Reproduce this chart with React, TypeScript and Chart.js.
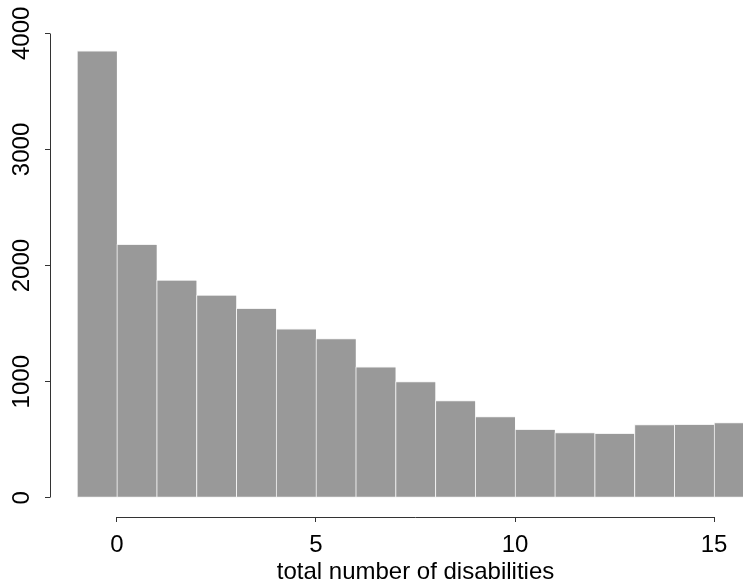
import React, { useEffect, useRef } from "react";
import { Chart, registerables } from "chart.js";

Chart.register(...registerables);

// Histogram of the total number of disabilities (unit-width bins)
const binStarts = [-1, 0, 1, 2, 3, 4, 5, 6, 7, 8, 9, 10, 11, 12, 13, 14, 15];
const counts = [3849, 2183, 1875, 1746, 1631, 1455, 1372, 1128, 1002, 838, 700, 590, 562, 556, 631, 633, 648];
const xTicks = [0, 5, 10, 15];
const yTicks = [0, 1000, 2000, 3000, 4000];
const xLabel = "total number of disabilities";

const FONT = "'Liberation Sans', Arial, Helvetica, sans-serif";
const FONT_SIZE = 24;
const AXIS_COLOR = "#333333";

// Draws R-style axis lines that run from the first to the last tick only
const axisLines = {
  id: "axisLines",
  afterDraw(chart: any) {
    const { ctx, chartArea, scales } = chart;
    const x = scales.x;
    const y = scales.y;
    const align = (p: number) => Math.round(p - 0.5) + 0.5;
    ctx.save();
    ctx.strokeStyle = AXIS_COLOR;
    ctx.lineWidth = 1;
    ctx.beginPath();
    const lx = align(chartArea.left);
    ctx.moveTo(lx, align(y.getPixelForValue(yTicks[0])));
    ctx.lineTo(lx, align(y.getPixelForValue(yTicks[yTicks.length - 1])));
    const by = align(chartArea.bottom);
    ctx.moveTo(align(x.getPixelForValue(xTicks[0])), by);
    ctx.lineTo(align(x.getPixelForValue(xTicks[xTicks.length - 1])), by);
    ctx.stroke();
    ctx.restore();
  },
};

export default function App() {
  const canvasRef = useRef<HTMLCanvasElement | null>(null);

  useEffect(() => {
    const canvas = canvasRef.current;
    if (!canvas) return;
    const data = binStarts.map((s, i) => ({ x: s + 0.5, y: counts[i] }));
    const chart = new Chart(canvas, {
      type: "bar",
      data: {
        datasets: [
          {
            data,
            backgroundColor: "#999999",
            borderColor: "#f2f2f2",
            borderWidth: { left: 1, top: 1, bottom: 1, right: 0 },
            borderSkipped: false,
            barPercentage: 1,
            categoryPercentage: 1,
          },
        ],
      },
      options: {
        animation: false,
        responsive: false,
        devicePixelRatio: 1,
        layout: { padding: { left: 0, top: 33, right: 19, bottom: 0 } },
        plugins: {
          legend: { display: false },
          tooltip: { enabled: false },
        },
        scales: {
          x: {
            type: "linear",
            min: -1.68,
            max: 16.68,
            offset: false,
            afterBuildTicks: (s: any) => {
              s.ticks = xTicks.map((v) => ({ value: v }));
            },
            afterFit: (s: any) => {
              s.height = 69;
            },
            border: { display: false },
            grid: {
              display: true,
              offset: false,
              drawOnChartArea: false,
              drawTicks: true,
              tickLength: 5,
              color: AXIS_COLOR,
              lineWidth: 1,
            },
            ticks: {
              autoSkip: false,
              minRotation: 0,
              maxRotation: 0,
              padding: 9,
              color: "#000000",
              font: { family: FONT, size: FONT_SIZE },
              callback: (v: any) => String(v),
            },
            title: {
              display: true,
              text: xLabel,
              color: "#000000",
              font: { family: FONT, size: FONT_SIZE },
              padding: { top: 0, bottom: -1 },
            },
          },
          y: {
            type: "linear",
            min: -165,
            max: 4003,
            afterBuildTicks: (s: any) => {
              s.ticks = yTicks.map((v) => ({ value: v }));
            },
            afterFit: (s: any) => {
              s.width = 50;
            },
            border: { display: false },
            grid: {
              display: true,
              drawOnChartArea: false,
              drawTicks: true,
              tickLength: 5,
              color: AXIS_COLOR,
              lineWidth: 1,
            },
            ticks: {
              autoSkip: false,
              minRotation: 90,
              maxRotation: 90,
              crossAlign: "center",
              padding: -4,
              color: "#000000",
              font: { family: FONT, size: FONT_SIZE },
              callback: (v: any) => String(v),
            },
          },
        },
      },
      plugins: [axisLines],
    } as any);
    return () => chart.destroy();
  }, []);

  return (
    <div
      style={{
        position: "fixed",
        left: 0,
        top: 0,
        width: 743,
        height: 586,
        overflow: "hidden",
        background: "#ffffff",
      }}
    >
      <canvas ref={canvasRef} width={800} height={586} style={{ display: "block" }} />
    </div>
  );
}
